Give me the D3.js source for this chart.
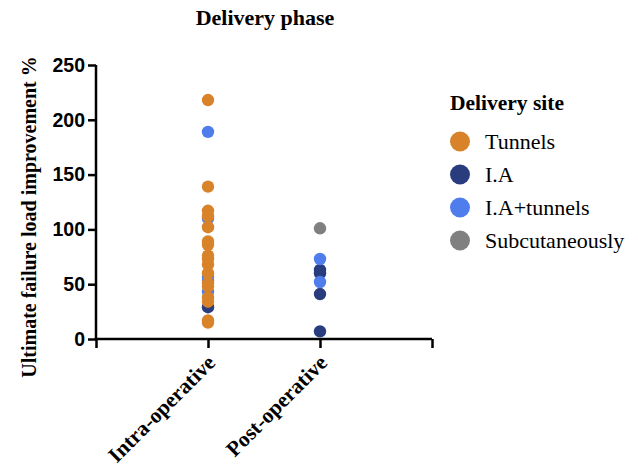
<!DOCTYPE html>
<html>
<head>
<meta charset="utf-8">
<script src="https://cdn.jsdelivr.net/npm/d3@7"></script>
<style>
  body { margin: 0; background: #fff; }
</style>
</head>
<body>
<div id="chart"></div>
<script>
// Categories and series
const phases = ['Intra-operative', 'Post-operative'];
const sites = ['Tunnels', 'I.A', 'I.A+tunnels', 'Subcutaneously'];
const siteColors = ['#D8832A', '#283C7E', '#4F7DEC', '#808080'];
const yTicks = [0, 50, 100, 150, 200, 250];

const intraIA = [29];
const intraIATunnels = [189, 110, 57, 53, 43];
const intraTunnels = [218, 139, 117, 112, 102, 89, 86, 76, 73, 68, 60, 51, 48, 38, 34, 17, 15];
const postIA = [63, 60, 41, 7];
const postIATunnels = [73, 52];
const postSubcut = [101];

const SERIF = "'Liberation Serif', 'Times New Roman', serif";
const SANS = "'Liberation Sans', Arial, sans-serif";

// draw order: I.A, I.A+tunnels, Tunnels, Subcutaneously
const points = [];
intraIA.forEach(v => points.push({ phase: phases[0], site: 'I.A', value: v }));
intraIATunnels.forEach(v => points.push({ phase: phases[0], site: 'I.A+tunnels', value: v }));
intraTunnels.forEach(v => points.push({ phase: phases[0], site: 'Tunnels', value: v }));
postIA.forEach(v => points.push({ phase: phases[1], site: 'I.A', value: v }));
postIATunnels.forEach(v => points.push({ phase: phases[1], site: 'I.A+tunnels', value: v }));
postSubcut.forEach(v => points.push({ phase: phases[1], site: 'Subcutaneously', value: v }));

const width = 638;
const height = 468;
const margin = { left: 96, top: 65 };
const plotW = 336;
const plotH = 274;

const svg = d3.select('#chart')
  .append('svg')
  .attr('width', width)
  .attr('height', height);

const g = svg.append('g')
  .attr('transform', `translate(${margin.left},${margin.top})`);

const color = d3.scaleOrdinal().domain(sites).range(siteColors);

// x: three equal slots, categories sit on the inner tick marks
const x = d3.scalePoint()
  .domain(['', ...phases, ' '])
  .range([0, plotW]);

const y = d3.scaleLinear()
  .domain([0, 250])
  .range([plotH, 0]);

// Y axis
const yAxis = g.append('g')
  .call(d3.axisLeft(y).tickValues(yTicks).tickSize(8).tickPadding(3));
yAxis.select('.domain').attr('stroke', '#000').attr('stroke-width', 2.5)
  .attr('d', `M0,0V${plotH}`);
yAxis.selectAll('.tick line').attr('stroke', '#000').attr('stroke-width', 2.5);
yAxis.selectAll('.tick text')
  .style('font-family', SANS)
  .style('font-weight', 'bold')
  .style('font-size', '19.5px')
  .attr('fill', '#000');

// X axis
const xAxis = g.append('g')
  .attr('transform', `translate(0,${plotH})`)
  .call(d3.axisBottom(x).tickSize(9).tickSizeOuter(0));
xAxis.select('.domain').attr('stroke', '#000').attr('stroke-width', 2.5)
  .attr('d', `M-1.25,0H${plotW}`);
xAxis.selectAll('.tick line').attr('stroke', '#000').attr('stroke-width', 2.5);
xAxis.selectAll('.tick text')
  .style('font-family', SERIF)
  .style('font-weight', 'bold')
  .style('font-size', '21.5px')
  .attr('fill', '#000')
  .attr('text-anchor', 'end')
  .attr('x', 0)
  .attr('y', 0)
  .attr('dy', 0)
  .attr('transform', 'translate(8,25) rotate(-45)');

// Points
g.selectAll('circle.pt')
  .data(points)
  .enter()
  .append('circle')
  .attr('class', 'pt')
  .attr('cx', d => x(d.phase))
  .attr('cy', d => y(d.value))
  .attr('r', 6.2)
  .attr('fill', d => color(d.site));

// Title
svg.append('text')
  .attr('x', 265)
  .attr('y', 25)
  .attr('text-anchor', 'middle')
  .style('font-family', SERIF)
  .style('font-weight', 'bold')
  .style('font-size', '22px')
  .text('Delivery phase');

// Y label
svg.append('text')
  .attr('transform', 'rotate(-90)')
  .attr('x', -217)
  .attr('y', 36)
  .attr('text-anchor', 'middle')
  .style('font-family', SERIF)
  .style('font-weight', 'bold')
  .style('font-size', '20px')
  .text('Ultimate failure load improvement %');

// Legend
const legend = svg.append('g').attr('transform', 'translate(450,0)');
legend.append('text')
  .attr('x', 0)
  .attr('y', 110)
  .style('font-family', SERIF)
  .style('font-weight', 'bold')
  .style('font-size', '21.5px')
  .text('Delivery site');

const items = legend.selectAll('g.item')
  .data(sites)
  .enter()
  .append('g')
  .attr('class', 'item')
  .attr('transform', (d, i) => `translate(0,${141.5 + i * 33})`);
items.append('circle')
  .attr('cx', 10)
  .attr('cy', 0)
  .attr('r', 10)
  .attr('fill', d => color(d));
items.append('text')
  .attr('x', 35)
  .attr('y', 0)
  .attr('dy', '0.35em')
  .style('font-family', SERIF)
  .style('font-size', '22px')
  .text(d => d);
</script>
</body>
</html>
